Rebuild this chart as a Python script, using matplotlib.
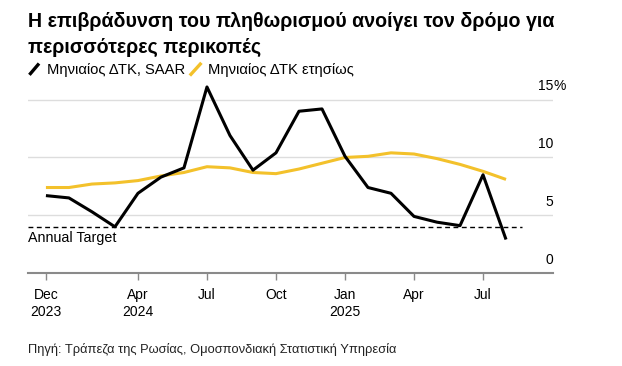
import matplotlib
matplotlib.use('Agg')
import matplotlib.pyplot as plt
from matplotlib.lines import Line2D
import numpy as np

plt.rcParams['font.family'] = ['Liberation Sans', 'DejaVu Sans']

months = ['2023-12', '2024-01', '2024-02', '2024-03', '2024-04', '2024-05', '2024-06',
          '2024-07', '2024-08', '2024-09', '2024-10', '2024-11', '2024-12', '2025-01',
          '2025-02', '2025-03', '2025-04', '2025-05', '2025-06', '2025-07', '2025-08']
cpi_saar = [6.7, 6.5, 5.3, 4.0, 6.9, 8.3, 9.1, 16.1, 11.9, 8.9, 10.4, 14.0, 14.2, 10.1,
            7.4, 6.9, 4.9, 4.4, 4.1, 8.5, 2.9]
cpi_yoy = [7.4, 7.4, 7.7, 7.8, 8.0, 8.4, 8.7, 9.2, 9.1, 8.7, 8.6, 9.0, 9.5, 10.0,
           10.1, 10.4, 10.3, 9.9, 9.4, 8.8, 8.1]
target = 4.0
tick_pos = [0, 4, 7, 10, 13, 16, 19]
tick_labels = ['Dec\n2023', 'Apr\n2024', 'Jul', 'Oct', 'Jan\n2025', 'Apr', 'Jul']
y_ticks = [0, 5, 10, 15]

BLACK = '#000000'
YELLOW = '#f3c12b'
XMIN, XMAX = -0.78, 22.04

fig = plt.figure(figsize=(6.22, 3.66), dpi=100)
ax = fig.add_axes([0.045, 0.254, 0.844, 0.521])

x = np.arange(len(months))
ax.plot(x, cpi_yoy, color=YELLOW, lw=2.2, solid_capstyle='butt', zorder=3)
ax.plot(x, cpi_saar, color=BLACK, lw=2.2, solid_capstyle='butt', zorder=4)
ax.plot([XMIN, 20.7], [target, target], color='black', lw=1.0, ls=(0, (3.5, 2.5)), zorder=2)
ax.text(XMIN, target - 0.35, 'Annual Target', fontsize=10.3, va='top', ha='left')

ax.set_xlim(XMIN, XMAX)
ax.set_ylim(0, 16.5)
for v in y_ticks[1:]:
    ax.axhline(v, color='#dddddd', lw=1.0, zorder=1)
for v in y_ticks:
    ax.text(XMAX, v + 0.55, f'{v}', ha='right', va='bottom', fontsize=10)
ax.text(XMAX + 0.02, y_ticks[-1] + 0.55, '%', ha='left', va='bottom', fontsize=10)

for s in ['top', 'right', 'left']:
    ax.spines[s].set_visible(False)
ax.spines['bottom'].set_color('#8a8a8a')
ax.spines['bottom'].set_linewidth(1.5)
ax.set_yticks([])
ax.set_xticks(tick_pos)
ax.set_xticklabels(tick_labels, fontsize=10, linespacing=1.25)
ax.tick_params(axis='x', length=5, width=1, color='#8a8a8a', pad=6)

fig.text(0.045, 0.926, 'Η επιβράδυνση του πληθωρισμού ανοίγει τον δρόμο για',
         fontsize=14.1, fontweight='bold', va='baseline', ha='left')
fig.text(0.045, 0.855, 'περισσότερες περικοπές',
         fontsize=14.1, fontweight='bold', va='baseline', ha='left')

# legend
fig.lines.append(Line2D([0.049, 0.061], [0.799, 0.823], transform=fig.transFigure, color=BLACK, lw=2.4))
fig.text(0.0756, 0.809, 'Μηνιαίος ΔΤΚ, SAAR', fontsize=10.6, va='center', ha='left')
fig.lines.append(Line2D([0.307, 0.322], [0.797, 0.825], transform=fig.transFigure, color=YELLOW, lw=2.4))
fig.text(0.334, 0.809, 'Μηνιαίος ΔΤΚ ετησίως', fontsize=10.6, va='center', ha='left')

fig.text(0.045, 0.044, 'Πηγή: Τράπεζα της Ρωσίας, Ομοσπονδιακή Στατιστική Υπηρεσία',
         fontsize=9.3, va='center', ha='left', color='#222222')

fig.savefig('out.png', dpi=100)
